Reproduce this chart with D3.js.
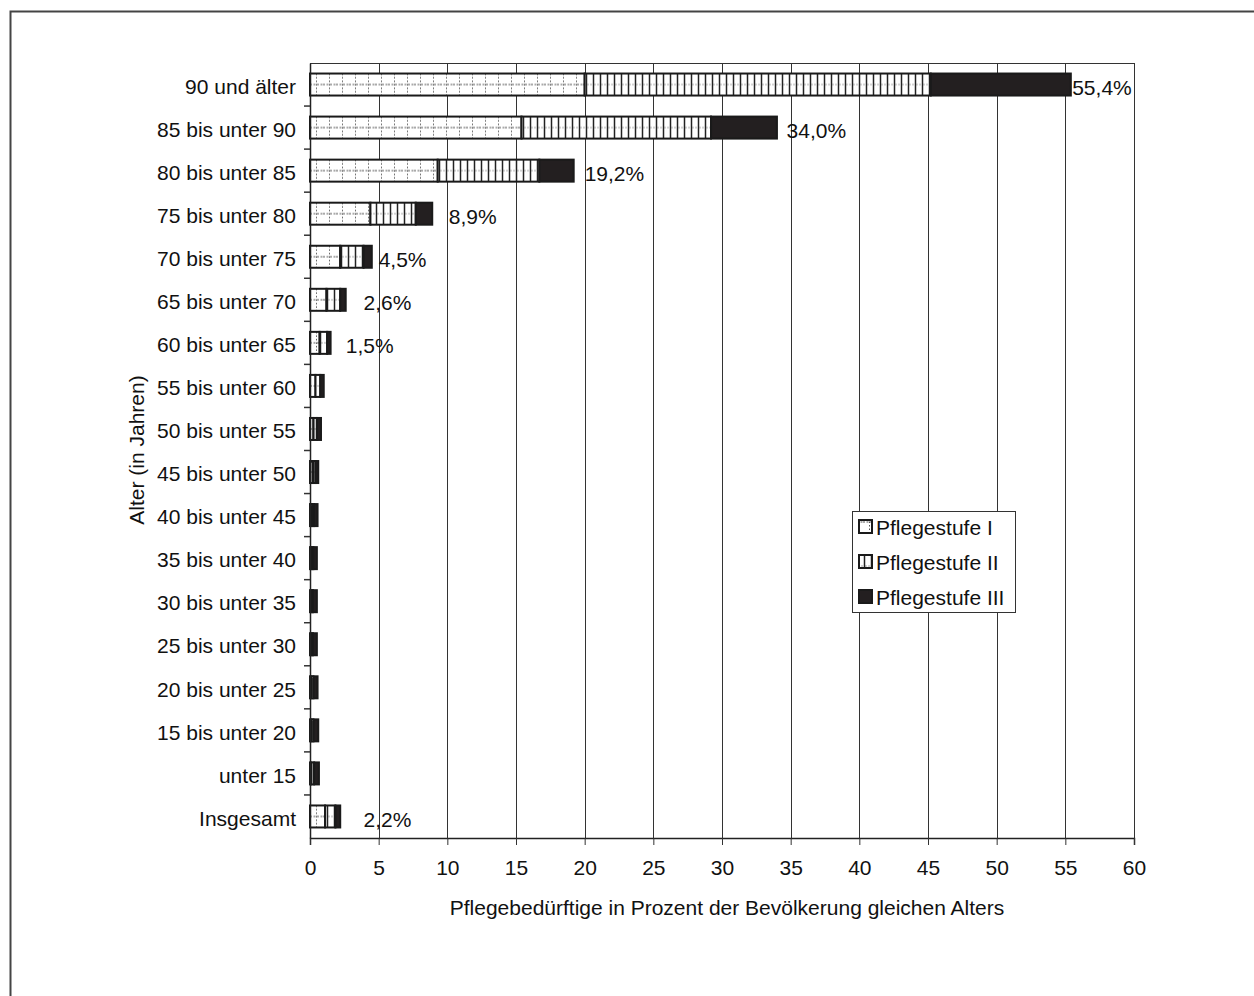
<!DOCTYPE html>
<html>
<head>
<meta charset="utf-8">
<script src="https://cdn.jsdelivr.net/npm/d3@7"></script>
<style>
  html, body { margin: 0; padding: 0; background: #fff; }
  svg { display: block; font-family: "Liberation Sans", Arial, sans-serif; }
</style>
</head>
<body>
<svg id="chart" width="1254" height="996"></svg>
<script>
const categories = ["90 und älter","85 bis unter 90","80 bis unter 85","75 bis unter 80","70 bis unter 75","65 bis unter 70","60 bis unter 65","55 bis unter 60","50 bis unter 55","45 bis unter 50","40 bis unter 45","35 bis unter 40","30 bis unter 35","25 bis unter 30","20 bis unter 25","15 bis unter 20","unter 15","Insgesamt"];
const stufe1 = [20.0, 15.4, 9.3, 4.4, 2.2, 1.2, 0.7, 0.4, 0.25, 0.2, 0.15, 0.12, 0.1, 0.1, 0.1, 0.1, 0.1, 1.1];
const stufe2 = [25.2, 13.8, 7.4, 3.3, 1.7, 1.0, 0.55, 0.35, 0.25, 0.2, 0.15, 0.13, 0.12, 0.12, 0.15, 0.15, 0.2, 0.75];
const stufe3 = [10.2, 4.8, 2.5, 1.2, 0.6, 0.4, 0.25, 0.25, 0.3, 0.2, 0.25, 0.25, 0.28, 0.28, 0.3, 0.35, 0.35, 0.35];
const valueLabels = ["55,4%","34,0%","19,2%","8,9%","4,5%","2,6%","1,5%",null,null,null,null,null,null,null,null,null,null,"2,2%"];
const labelAt = [55.5, 34.7, 20.0, 10.1, 5.0, 3.9, 2.6, null,null,null,null,null,null,null,null,null,null, 3.9];
const xTicks = [0,5,10,15,20,25,30,35,40,45,50,55,60];
const seriesNames = ["Pflegestufe I","Pflegestufe II","Pflegestufe III"];
const xTitle = "Pflegebedürftige in Prozent der Bevölkerung gleichen Alters";
const yTitle = "Alter (in Jahren)";

(function () {
const svg = d3.select("#chart");
const FS = 21;
const pLeft = 310, pRight = 1134, pTop = 63, pBottom = 838;
const x = d3.scaleLinear().domain([0, 60]).range([pLeft, pRight]);
const y = d3.scaleBand().domain(categories).range([pTop, pBottom]).padding(0);
const barH = 22;

// outer frame
svg.append("path").attr("d", "M10.5,996 V11.5 H1254").attr("fill","none").attr("stroke","#444").attr("stroke-width",2);

// patterns
const defs = svg.append("defs");
const p1 = defs.append("pattern").attr("id","pat1").attr("patternUnits","userSpaceOnUse")
  .attr("x", pLeft).attr("y", 0).attr("width", 13).attr("height", barH);
p1.append("rect").attr("width",13).attr("height",barH).attr("fill","#fff");
p1.append("line").attr("x1",6.5).attr("x2",6.5).attr("y1",0).attr("y2",barH)
  .attr("stroke","#555").attr("stroke-width",1).attr("stroke-dasharray","1.5,2");
p1.append("line").attr("x1",0).attr("x2",13).attr("y1",11).attr("y2",11)
  .attr("stroke","#555").attr("stroke-width",1).attr("stroke-dasharray","2,1.5");
const p2 = defs.append("pattern").attr("id","pat2").attr("patternUnits","userSpaceOnUse")
  .attr("x", pLeft).attr("y", 0).attr("width", 7).attr("height", barH);
p2.append("rect").attr("width",7).attr("height",barH).attr("fill","#fff");
p2.append("line").attr("x1",0).attr("x2",7).attr("y1",11).attr("y2",11)
  .attr("stroke","#aaa").attr("stroke-width",1).attr("stroke-dasharray","2,2");
p2.append("line").attr("x1",3.5).attr("x2",3.5).attr("y1",0).attr("y2",barH)
  .attr("stroke","#222").attr("stroke-width",1.5);

// gridlines
svg.append("g").selectAll("line").data(xTicks).join("line")
  .attr("x1", d => Math.round(x(d)) + 0.5).attr("x2", d => Math.round(x(d)) + 0.5)
  .attr("y1", pTop).attr("y2", pBottom)
  .attr("stroke", "#333").attr("stroke-width", 1);
svg.append("line").attr("x1", pLeft).attr("x2", pRight + 1).attr("y1", pTop + 0.5).attr("y2", pTop + 0.5)
  .attr("stroke", "#333").attr("stroke-width", 1);

// bars
const rows = svg.append("g").selectAll("g").data(categories).join("g")
  .attr("transform", c => `translate(0,${y(c) + (y.bandwidth() - barH) / 2})`);
const fills = ["url(#pat1)","url(#pat2)","#231f20"];
rows.each(function(c, i) {
  const g = d3.select(this);
  const vals = [stufe1[i], stufe2[i], stufe3[i]];
  let acc = 0;
  vals.forEach((v, k) => {
    g.append("rect")
      .attr("x", x(acc)).attr("y", 0)
      .attr("width", x(acc + v) - x(acc)).attr("height", barH)
      .attr("fill", fills[k]).attr("stroke", "#1a1a1a").attr("stroke-width", 2);
    acc += v;
  });
  if (valueLabels[i]) {
    g.append("text").attr("x", x(labelAt[i])).attr("y", barH / 2 + 3)
      .attr("dy", "0.35em").attr("font-size", FS).attr("fill", "#111")
      .text(valueLabels[i]);
  }
});

// axes
const xAxis = svg.append("g").attr("transform", `translate(0,${pBottom})`)
  .call(d3.axisBottom(x).tickValues(xTicks).tickSize(7).tickPadding(15).tickFormat(d3.format("d")));
xAxis.select(".domain").attr("stroke", "#222").attr("stroke-width", 1.5);
xAxis.selectAll(".tick line").attr("stroke", "#333");
xAxis.selectAll("text").attr("font-size", FS).attr("fill", "#111").attr("font-family", "Liberation Sans, Arial, sans-serif");

const yAxis = svg.append("g").attr("transform", `translate(${pLeft},0)`)
  .call(d3.axisLeft(y).tickSize(0).tickPadding(14));
yAxis.select(".domain").attr("stroke", "#222").attr("stroke-width", 1.5);
yAxis.selectAll("text").attr("font-size", FS).attr("fill", "#111").attr("font-family", "Liberation Sans, Arial, sans-serif")
  .attr("y", 2.5);
// y ticks at band boundaries
svg.append("g").selectAll("line").data(categories.slice(1)).join("line")
  .attr("x1", pLeft - 6).attr("x2", pLeft)
  .attr("y1", c => y(c)).attr("y2", c => y(c))
  .attr("stroke", "#333").attr("stroke-width", 1.5);

// axis titles
svg.append("text").attr("x", (pLeft + pRight) / 2 + 5).attr("y", 908).attr("dy", "0.35em")
  .attr("text-anchor", "middle").attr("font-size", FS).attr("fill", "#111").text(xTitle);
svg.append("text").attr("transform", "translate(137,450) rotate(-90)").attr("dy", "0.35em")
  .attr("text-anchor", "middle").attr("font-size", FS).attr("fill", "#111").text(yTitle);

// legend
const lg = svg.append("g").attr("transform", "translate(852,511)");
lg.append("rect").attr("x", 0.5).attr("y", 0.5).attr("width", 163).attr("height", 101)
  .attr("fill", "#fff").attr("stroke", "#333").attr("stroke-width", 1);
seriesNames.forEach((n, k) => {
  const gy = 16 + k * 35;
  lg.append("rect").attr("x", 7).attr("y", gy - 7).attr("width", 13).attr("height", 13)
    .attr("fill", fills[k]).attr("stroke", "#1a1a1a").attr("stroke-width", 2);
  lg.append("text").attr("x", 24).attr("y", gy + 1).attr("dy", "0.35em")
    .attr("font-size", FS).attr("fill", "#111").text(n);
});
})();
</script>
</body>
</html>
